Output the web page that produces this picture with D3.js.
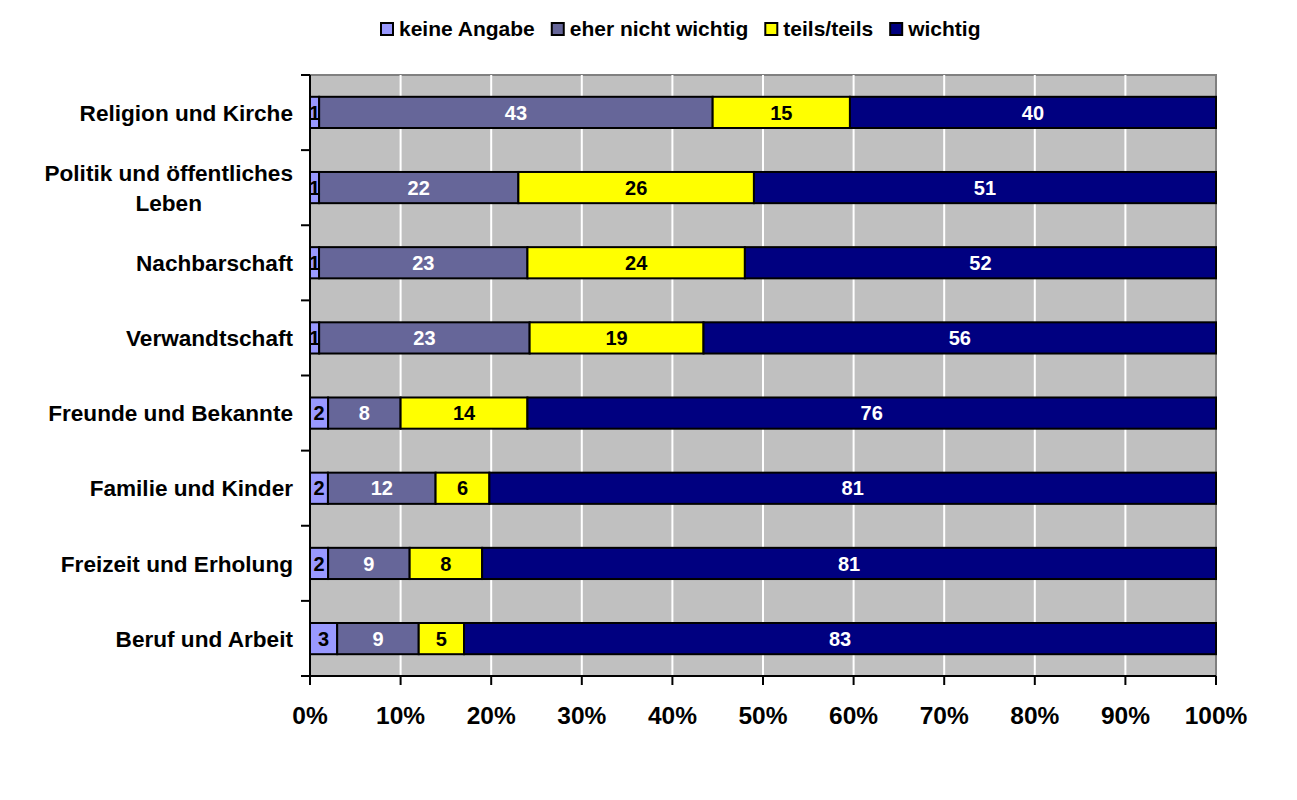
<!DOCTYPE html>
<html>
<head>
<meta charset="utf-8">
<script src="https://cdn.jsdelivr.net/npm/d3@7"></script>
<style>
  body { margin: 0; background: #fff; }
  svg { display: block; font-family: "Liberation Sans", Arial, sans-serif; font-weight: bold; }
</style>
</head>
<body>
<svg id="chart" width="1297" height="800"></svg>
<script>
// Categories, top to bottom
const categories = [
  "Religion und Kirche",
  "Politik und öffentliches Leben",
  "Nachbarschaft",
  "Verwandtschaft",
  "Freunde und Bekannte",
  "Familie und Kinder",
  "Freizeit und Erholung",
  "Beruf und Arbeit"
];
const seriesNames = ["keine Angabe", "eher nicht wichtig", "teils/teils", "wichtig"];
const keineAngabe    = [1, 1, 1, 1, 2, 2, 2, 3];
const eherNicht      = [43, 22, 23, 23, 8, 12, 9, 9];
const teilsTeils     = [15, 26, 24, 19, 14, 6, 8, 5];
const wichtig        = [40, 51, 52, 56, 76, 81, 81, 83];
const xTicks = [0, 10, 20, 30, 40, 50, 60, 70, 80, 90, 100];

const colors = ["#9999FF", "#666699", "#FFFF00", "#000080"];
const labelColors = ["#000", "#fff", "#000", "#fff"];

const svg = d3.select("#chart");
const m = { left: 310, right: 1216, top: 75, bottom: 676 };

const x = d3.scaleLinear().domain([0, 100]).range([m.left, m.right]);
const y = d3.scaleBand().domain(categories).range([m.top, m.bottom]).paddingInner(0.585).paddingOuter(0.29);

// Plot background
svg.append("rect")
  .attr("x", m.left).attr("y", m.top)
  .attr("width", m.right - m.left).attr("height", m.bottom - m.top)
  .attr("fill", "#C0C0C0").attr("stroke", "#808080").attr("stroke-width", 2);

// Vertical gridlines
svg.append("g").selectAll("line")
  .data(xTicks.slice(1, -1))
  .join("line")
  .attr("x1", d => x(d)).attr("x2", d => x(d))
  .attr("y1", m.top).attr("y2", m.bottom)
  .attr("stroke", "#fff").attr("stroke-width", 2);

// Build stacked, row-normalised data (100% stacked bar)
const rows = categories.map((c, i) => {
  const vals = [keineAngabe[i], eherNicht[i], teilsTeils[i], wichtig[i]];
  const total = d3.sum(vals);
  let acc = 0;
  return vals.map((v, k) => {
    const x0 = acc / total * 100;
    acc += v;
    return { cat: c, k, v, x0, x1: acc / total * 100 };
  });
});
const segs = rows.flat();

const bars = svg.append("g");
bars.selectAll("rect")
  .data(segs)
  .join("rect")
  .attr("x", d => x(d.x0))
  .attr("width", d => x(d.x1) - x(d.x0))
  .attr("y", d => y(d.cat))
  .attr("height", y.bandwidth())
  .attr("fill", d => colors[d.k])
  .attr("stroke", "#000")
  .attr("stroke-width", 2);

bars.selectAll("text")
  .data(segs)
  .join("text")
  .attr("x", d => (x(d.x0) + x(d.x1)) / 2)
  .attr("y", d => y(d.cat) + y.bandwidth() / 2)
  .attr("dy", "0.36em")
  .attr("text-anchor", "middle")
  .attr("font-size", 20)
  .attr("fill", d => labelColors[d.k])
  .text(d => d.v);

// Y axis line and ticks at band boundaries
const yAxis = svg.append("g");
yAxis.append("line")
  .attr("x1", m.left).attr("x2", m.left)
  .attr("y1", m.top).attr("y2", m.bottom)
  .attr("stroke", "#000").attr("stroke-width", 2);
yAxis.selectAll("line.tick")
  .data(d3.range(categories.length + 1))
  .join("line")
  .attr("class", "tick")
  .attr("x1", m.left - 9).attr("x2", m.left)
  .attr("y1", i => m.top + i * (m.bottom - m.top) / categories.length)
  .attr("y2", i => m.top + i * (m.bottom - m.top) / categories.length)
  .attr("stroke", "#000").attr("stroke-width", 2);

// Category labels (long label wraps onto a centred second line)
const labelRight = m.left - 17;
yAxis.selectAll("text.cat")
  .data(categories)
  .join("text")
  .attr("class", "cat")
  .attr("font-size", 22.6)
  .attr("fill", "#000")
  .each(function (d) {
    const t = d3.select(this);
    const cy = y(d) + y.bandwidth() / 2;
    if (d === "Politik und öffentliches Leben") {
      const l1 = t.append("tspan").attr("x", labelRight).attr("y", cy - 7)
        .attr("text-anchor", "end").text("Politik und öffentliches");
      const w = l1.node().getComputedTextLength();
      t.append("tspan").attr("x", labelRight - w / 2).attr("y", cy + 23)
        .attr("text-anchor", "middle").text("Leben");
    } else {
      t.attr("x", labelRight).attr("y", cy).attr("dy", "0.36em")
        .attr("text-anchor", "end").text(d);
    }
  });

// X axis
const xAxis = svg.append("g");
xAxis.append("line")
  .attr("x1", m.left).attr("x2", m.right)
  .attr("y1", m.bottom).attr("y2", m.bottom)
  .attr("stroke", "#000").attr("stroke-width", 2);
xAxis.selectAll("line.tick")
  .data(xTicks)
  .join("line")
  .attr("class", "tick")
  .attr("x1", d => x(d)).attr("x2", d => x(d))
  .attr("y1", m.bottom).attr("y2", m.bottom + 9)
  .attr("stroke", "#000").attr("stroke-width", 2);
xAxis.selectAll("text")
  .data(xTicks)
  .join("text")
  .attr("x", d => x(d))
  .attr("y", 724)
  .attr("text-anchor", "middle")
  .attr("font-size", 24.5)
  .attr("fill", "#000")
  .text(d => d + "%");

// Legend: square swatch + label, laid out left to right
const legend = svg.append("g").attr("transform", "translate(381,23)");
let lx = 0;
seriesNames.forEach((name, i) => {
  const g = legend.append("g").attr("transform", `translate(${lx},0)`);
  g.append("rect")
    .attr("x", 0).attr("y", 0).attr("width", 12).attr("height", 12)
    .attr("fill", colors[i]).attr("stroke", "#000").attr("stroke-width", 2);
  const txt = g.append("text")
    .attr("x", 18).attr("y", 13)
    .attr("font-size", 21)
    .attr("fill", "#000")
    .text(name);
  lx += 18 + txt.node().getComputedTextLength() + 17;
});
</script>
</body>
</html>
